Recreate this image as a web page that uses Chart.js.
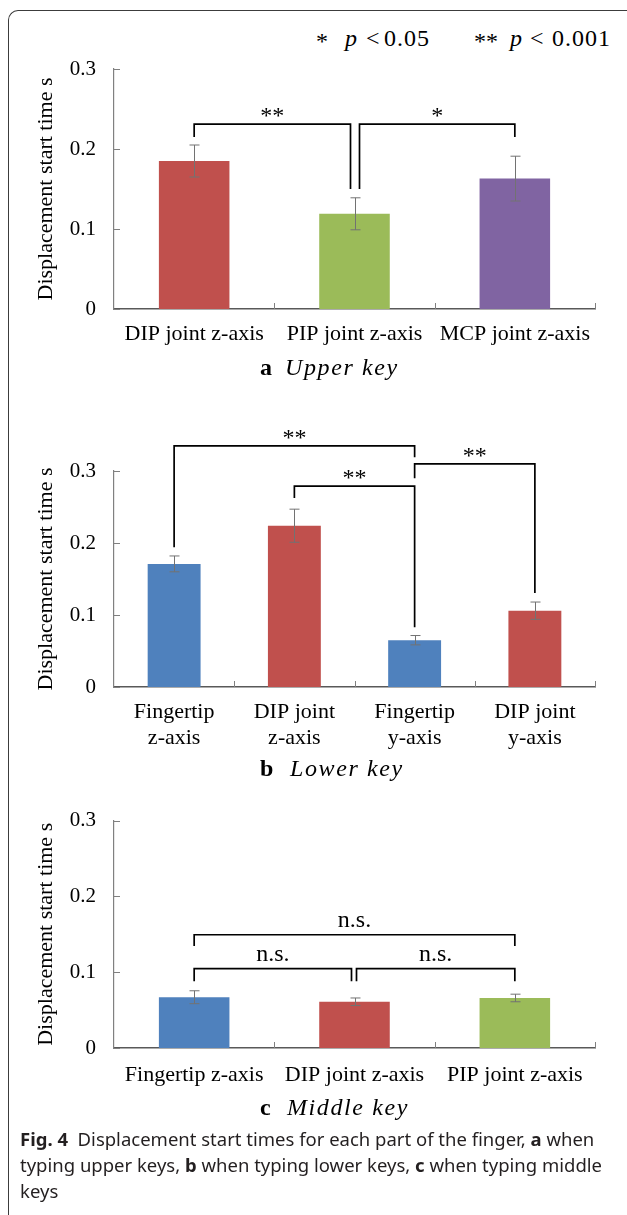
<!DOCTYPE html>
<html>
<head>
<meta charset="utf-8">
<script src="https://cdn.jsdelivr.net/npm/chart.js@4.4.0/dist/chart.umd.min.js"></script>
<style>
  body { margin: 0; background: #fff; width: 627px; height: 1215px; position: relative; overflow: hidden; font-family: "Liberation Serif", "Times New Roman", serif; }
  canvas { position: absolute; left: 0; }
  .frame { position: absolute; left: 8px; top: 10px; width: 700px; height: 1300px; border-top: 1.5px solid #3c3c3c; border-left: 1.5px solid #3c3c3c; border-top-left-radius: 10px; }
  .t { position: absolute; white-space: nowrap; line-height: 1; font-size: 24px; color: #000; }
  .sub i { letter-spacing: 1.6px; }
  .caption { position: absolute; left: 20px; top: 1126px; width: 600px; font-family: "Noto Sans", "Open Sans", sans-serif; font-size: 18.5px; line-height: 26px; color: #231f20; white-space: nowrap; }
</style>
</head>
<body>
<div class="frame"></div>

<span class="t" style="left:316px; top:29px">*</span>
<span class="t" style="left:345px; top:26px"><i>p</i></span>
<span class="t" style="left:366px; top:26px">&lt;</span>
<span class="t" style="left:384px; top:26px; letter-spacing:1px">0.05</span>
<span class="t" style="left:474px; top:29px">**</span>
<span class="t" style="left:510px; top:26px"><i>p</i></span>
<span class="t" style="left:530px; top:26px">&lt;</span>
<span class="t" style="left:552px; top:26px; letter-spacing:1px">0.001</span>

<canvas id="chartA" width="627" height="390" style="top:0px"></canvas>
<canvas id="chartB" width="627" height="400" style="top:390px"></canvas>
<canvas id="chartC" width="627" height="340" style="top:790px"></canvas>

<div class="t sub" style="left:260px; top:355px"><b>a</b></div>
<div class="t sub" style="left:285px; top:355px"><i>Upper key</i></div>
<div class="t sub" style="left:260px; top:756px"><b>b</b></div>
<div class="t sub" style="left:290px; top:756px"><i>Lower key</i></div>
<div class="t sub" style="left:260px; top:1095px"><b>c</b></div>
<div class="t sub" style="left:287px; top:1095px"><i>Middle key</i></div>

<div class="caption"><b>Fig. 4</b>&nbsp; Displacement start times for each part of the finger, <b>a</b> when<br>typing upper keys, <b>b</b> when typing lower keys, <b>c</b> when typing middle<br>keys</div>

<script>
// y axis ticks shared by all three panels
const yTicks = [0, 0.1, 0.2, 0.3];

// a: upper key
const upperLabels = ['DIP joint z-axis', 'PIP joint z-axis', 'MCP joint z-axis'];
const upperMeans = [0.185, 0.119, 0.163];
const upperErrors = [0.020, 0.020, 0.028];

// b: lower key
const lowerLabels = [['Fingertip', 'z-axis'], ['DIP joint', 'z-axis'], ['Fingertip', 'y-axis'], ['DIP joint', 'y-axis']];
const lowerMeans = [0.171, 0.224, 0.065, 0.106];
const lowerErrors = [0.011, 0.023, 0.0065, 0.012];

// c: middle key
const middleLabels = ['Fingertip z-axis', 'DIP joint z-axis', 'PIP joint z-axis'];
const middleMeans = [0.067, 0.061, 0.066];
const middleErrors = [0.0085, 0.005, 0.005];

const SERIF = '"Liberation Serif", "Times New Roman", serif';
const BLUE = '#4f81bd', RED = '#c0504d', GREEN = '#9bbb59', PURPLE = '#8064a2';

// significance brackets (levels in axis units)
const upperBrackets = [
  { from: 0, to: 1, top: 0.231, fromEnd: 0.215, toEnd: 0.15, text: '**', toShift: -4 },
  { from: 1, to: 2, top: 0.231, fromEnd: 0.15, toEnd: 0.215, text: '*', fromShift: 5 }
];
const lowerBrackets = [
  { from: 0, to: 2, top: 0.335, fromEnd: 0.194, toEnd: 0.319, text: '**' },
  { from: 1, to: 2, top: 0.279, fromEnd: 0.2625, toEnd: 0.083, text: '**' },
  { from: 2, to: 3, top: 0.310, fromEnd: 0.290, toEnd: 0.1305, text: '**' }
];
const middleBrackets = [
  { from: 0, to: 2, top: 0.1494, fromEnd: 0.1345, toEnd: 0.1345, text: 'n.s.' },
  { from: 0, to: 1, top: 0.1046, fromEnd: 0.088, toEnd: 0.088, text: 'n.s.', toShift: -3 },
  { from: 1, to: 2, top: 0.1046, fromEnd: 0.088, toEnd: 0.088, text: 'n.s.', fromShift: 2 }
];

const extras = {
  id: 'extras',
  afterDatasetsDraw(chart, args, opts) {
    const { ctx } = chart;
    const x = chart.scales.x, y = chart.scales.y;
    const means = chart.data.datasets[0].data;
    ctx.save();

    // tick marks point inward
    ctx.strokeStyle = '#808080';
    ctx.lineWidth = 1;
    ctx.beginPath();
    yTicks.forEach(v => {
      const py = Math.round(y.getPixelForValue(v)) + 0.5;
      ctx.moveTo(x.left, py);
      ctx.lineTo(x.left + 6, py);
    });
    for (let i = 1; i <= means.length; i++) {
      const px = Math.round(x.getPixelForValue(i - 0.5)) + 0.5;
      ctx.moveTo(px, y.bottom);
      ctx.lineTo(px, y.bottom - 6);
    }
    ctx.stroke();

    // error bars
    ctx.strokeStyle = '#727272';
    ctx.beginPath();
    means.forEach((m, i) => {
      const cx = Math.round(x.getPixelForValue(i)) + 0.5;
      const y1 = y.getPixelForValue(m + opts.errors[i]);
      const y2 = y.getPixelForValue(m - opts.errors[i]);
      ctx.moveTo(cx, y1); ctx.lineTo(cx, y2);
      ctx.moveTo(cx - 5, y1); ctx.lineTo(cx + 5, y1);
      ctx.moveTo(cx - 5, y2); ctx.lineTo(cx + 5, y2);
    });
    ctx.stroke();

    // brackets
    ctx.strokeStyle = '#000';
    ctx.fillStyle = '#000';
    ctx.lineWidth = 1.7;
    opts.brackets.forEach(b => {
      const x1 = x.getPixelForValue(b.from) + (b.fromShift || 0);
      const x2 = x.getPixelForValue(b.to) + (b.toShift || 0);
      const yt = y.getPixelForValue(b.top);
      ctx.beginPath();
      ctx.moveTo(x1, y.getPixelForValue(b.fromEnd));
      ctx.lineTo(x1, yt);
      ctx.lineTo(x2, yt);
      ctx.lineTo(x2, y.getPixelForValue(b.toEnd));
      ctx.stroke();
      const star = b.text.startsWith('*');
      ctx.font = '24px ' + SERIF;
      ctx.textAlign = 'center';
      ctx.textBaseline = 'alphabetic';
      ctx.fillText(b.text, (x1 + x2) / 2, yt - (star ? 1 : 8));
    });
    ctx.restore();
  }
};

function makeChart(id, labels, means, errors, colors, brackets, padTop, xHeight, tickPad) {
  return new Chart(document.getElementById(id), {
    type: 'bar',
    data: {
      labels,
      datasets: [{
        data: means,
        backgroundColor: colors,
        barPercentage: 0.44,
        categoryPercentage: 1
      }]
    },
    options: {
      responsive: false,
      animation: false,
      layout: { padding: { top: padTop, right: 32, left: 0, bottom: 0 } },
      plugins: {
        legend: { display: false },
        tooltip: { enabled: false },
        extras: { errors, brackets }
      },
      scales: {
        x: {
          afterFit: s => { s.height = xHeight; },
          grid: { display: false, drawTicks: false },
          border: { display: true, color: '#595959', width: 1.5 },
          ticks: {
            padding: tickPad,
            color: '#000',
            maxRotation: 0,
            autoSkip: false,
            font: { family: SERIF, size: 22, lineHeight: 1.15 }
          }
        },
        y: {
          min: 0,
          max: 0.3,
          afterFit: s => { s.width = 114; },
          afterBuildTicks: s => { s.ticks = yTicks.map(v => ({ value: v })); },
          grid: { display: false, drawTicks: false },
          border: { display: true, color: '#808080', width: 1.2 },
          ticks: {
            padding: 18,
            color: '#000',
            font: { family: SERIF, size: 21 },
            callback: v => v === 0 ? '0' : v.toFixed(1)
          },
          title: {
            display: true,
            text: 'Displacement start time s',
            color: '#000',
            font: { family: SERIF, size: 22 },
            padding: { top: 33, bottom: 0 }
          }
        }
      }
    },
    plugins: [extras]
  });
}

makeChart('chartA', upperLabels, upperMeans, upperErrors, [RED, GREEN, PURPLE], upperBrackets, 69, 81, 13);
makeChart('chartB', lowerLabels, lowerMeans, lowerErrors, [BLUE, RED, BLUE, RED], lowerBrackets, 81, 103, 13);
makeChart('chartC', middleLabels, middleMeans, middleErrors, [BLUE, RED, GREEN], middleBrackets, 17, 82, 15);
</script>
</body>
</html>
